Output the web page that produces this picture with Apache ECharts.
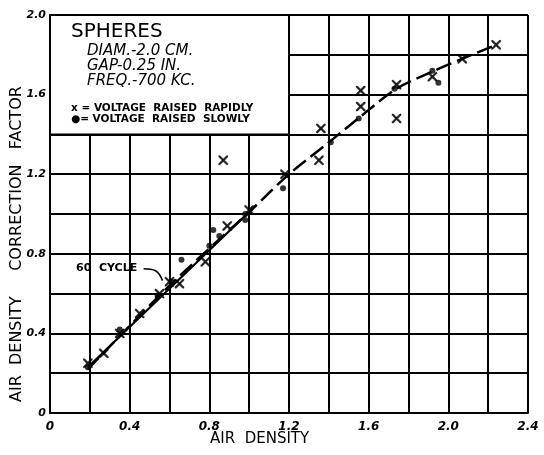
<!DOCTYPE html>
<html>
<head>
<meta charset="utf-8">
<script src="https://cdn.jsdelivr.net/npm/echarts@6/dist/echarts.min.js"></script>
<style>
  html, body { margin: 0; padding: 0; background: #fff; }
  #chart { width: 544px; height: 455px; }
</style>
</head>
<body>
<div id="chart"></div>
<script>
// points: [air density, correction factor]
const rapidPts = [
  [0.19, 0.25], [0.27, 0.30], [0.35, 0.40], [0.45, 0.50], [0.55, 0.60],
  [0.60, 0.66], [0.65, 0.65], [0.78, 0.76], [0.89, 0.94], [1.00, 1.02],
  [0.87, 1.27], [1.18, 1.20], [1.35, 1.27], [1.36, 1.43], [1.56, 1.54],
  [1.56, 1.62], [1.74, 1.65], [1.74, 1.48], [1.92, 1.69], [2.07, 1.78],
  [2.24, 1.85]
];
const slowPts = [
  [0.19, 0.23], [0.35, 0.42], [0.54, 0.59], [0.61, 0.66], [0.66, 0.77],
  [0.80, 0.84], [0.82, 0.92], [0.85, 0.89], [0.98, 0.97], [0.98, 1.00],
  [1.17, 1.13], [1.41, 1.36], [1.55, 1.48], [1.73, 1.63], [1.92, 1.72],
  [1.95, 1.66]
];
// hand drawn dashed curve (700 kc) and solid 60 cycle line
const curve700 = [
  [0.19, 0.22], [0.60, 0.64], [1.00, 1.01], [1.20, 1.20], [1.40, 1.36],
  [1.56, 1.49], [1.74, 1.63], [1.93, 1.72], [2.07, 1.78], [2.24, 1.85]
];
const line60 = [[0.19, 0.23], [1.02, 1.03]];
const arrow60 = [[0.47, 0.725], [0.53, 0.715], [0.565, 0.665]];
// box in the upper left corner that holds the notes
const noteBox = [[0, 1.4], [1.2, 2.0]];

const xMax = 2.4;
const yMax = 2.0;

const crossPath = 'path://M0,0 L10,10 M10,0 L0,10 M0,0 L1.5,0 L10,8.5 L10,10 L8.5,10 L0,1.5 Z M10,0 L10,1.5 L1.5,10 L0,10 L0,8.5 L8.5,0 Z';

let dom = document.getElementById('chart');
let myChart = echarts.init(dom, null, { renderer: 'canvas' });

const font = '"DejaVu Sans", sans-serif';

function tickLabel(v) {
  if (Math.round(v * 10) % 4 !== 0) return '';
  return v === 0 ? '0' : v.toFixed(1);
}

option = {
  animation: false,
  backgroundColor: '#fff',
  grid: { left: 50, right: 16, top: 15, bottom: 42 },
  xAxis: {
    type: 'value', min: 0, max: xMax, interval: 0.2,
    axisLine: { lineStyle: { color: '#000', width: 2 } },
    axisTick: { show: false },
    splitLine: { lineStyle: { color: '#000', width: 2 } },
    axisLabel: {
      formatter: tickLabel, color: '#000', fontFamily: font,
      fontStyle: 'italic', fontWeight: 'bold', fontSize: 12, margin: 8
    }
  },
  yAxis: {
    type: 'value', min: 0, max: yMax, interval: 0.2,
    axisLine: { lineStyle: { color: '#000', width: 2 } },
    axisTick: { show: false },
    splitLine: { lineStyle: { color: '#000', width: 2 } },
    axisLabel: {
      formatter: tickLabel, color: '#000', fontFamily: font,
      fontStyle: 'italic', fontWeight: 'bold', fontSize: 11, margin: 4
    }
  },
  graphic: [
    {
      type: 'text', rotation: Math.PI / 2, x: 9, y: 402,
      style: {
        text: 'AIR  DENSITY     CORRECTION   FACTOR', fill: '#000',
        font: '16px ' + font
      }
    },
    {
      type: 'text', x: 210, y: 432,
      style: { text: 'AIR  DENSITY', fill: '#000', font: '15px ' + font }
    },
    {
      type: 'text', x: 71, y: 22, z: 10,
      style: { text: 'SPHERES', fill: '#000', font: '20px ' + font }
    },
    {
      type: 'text', x: 87, y: 44, z: 10,
      style: {
        text: 'DIAM.-2.0 CM.\nGAP-0.25 IN.\nFREQ.-700 KC.',
        fill: '#000', font: 'italic 15px ' + font, lineHeight: 15
      }
    },
    {
      type: 'text', x: 71, y: 103, z: 10,
      style: {
        text: 'x = VOLTAGE  RAISED  RAPIDLY\n\u25CF= VOLTAGE  RAISED  SLOWLY',
        fill: '#000', font: 'bold 10.5px ' + font, lineHeight: 11
      }
    },
    {
      type: 'text', x: 76, y: 263, z: 10,
      style: { text: '60  CYCLE', fill: '#000', font: 'bold 11px ' + font }
    }
  ],
  series: [
    {
      name: 'box', type: 'line', data: [], silent: true,
      markArea: {
        silent: true,
        itemStyle: { color: '#fff', borderColor: '#000', borderWidth: 2 },
        data: [[{ coord: noteBox[0] }, { coord: noteBox[1] }]]
      }
    },
    {
      name: '700 kc', type: 'line', data: curve700, showSymbol: false, smooth: 0.3,
      lineStyle: { color: '#000', width: 2.5, type: [16, 6] }
    },
    {
      name: '60 cycle', type: 'line', data: line60, showSymbol: false,
      lineStyle: { color: '#000', width: 2.2 }
    },
    {
      name: 'pointer', type: 'line', data: arrow60, showSymbol: false, smooth: 0.4,
      lineStyle: { color: '#000', width: 1.6 }
    },
    {
      name: 'raised rapidly', type: 'scatter', data: rapidPts,
      symbol: crossPath, symbolSize: 9,
      itemStyle: { color: '#000', borderColor: '#000', borderWidth: 0.5 }
    },
    {
      name: 'raised slowly', type: 'scatter', data: slowPts,
      symbol: 'circle', symbolSize: 6,
      itemStyle: { color: '#000' }
    }
  ]
};

myChart.setOption(option);

window.addEventListener('resize', function () {
  if (myChart) {
    myChart.resize();
  }
});
</script>
</body>
</html>
